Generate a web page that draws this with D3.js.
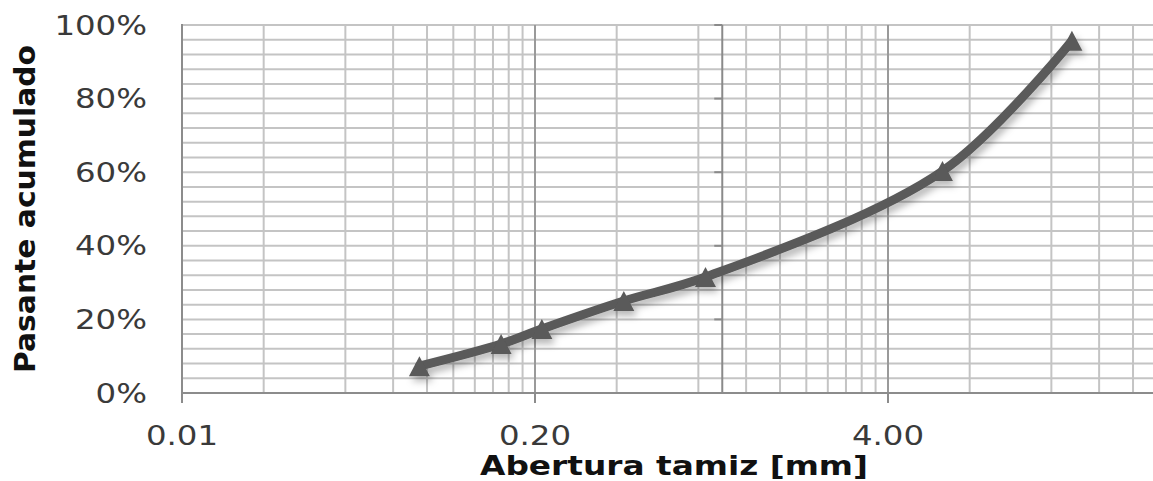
<!DOCTYPE html>
<html>
<head>
<meta charset="utf-8">
<script src="https://cdn.jsdelivr.net/npm/d3@7"></script>
<style>
  html, body { margin: 0; padding: 0; background: #fff; }
  svg { display: block; }
  text { font-family: "DejaVu Sans", Verdana, sans-serif; }
</style>
</head>
<body>
<svg id="chart" width="1153" height="481"></svg>
<script>
// Sieve openings (mm) and cumulative passing fraction
const openings = [0.075, 0.15, 0.212, 0.425, 0.85, 6.35, 19.05];
const passing  = [0.073, 0.133, 0.174, 0.250, 0.315, 0.603, 0.957];

// Axis ticks (log base 20); the last decade boundary lies past the right edge
const xTicks = [0.01, 0.2, 4, 80];
const xTickLabels = ["0.01", "0.20", "4.00"];
const yTicks = [0, 0.2, 0.4, 0.6, 0.8, 1.0];
const yTickLabels = ["0%", "20%", "40%", "60%", "80%", "100%"];

const xTitle = "Abertura tamiz [mm]";
const yTitle = "Pasante acumulado";

const W = 1153, H = 481;
const plotLeft = 182, plotTop = 25, plotBottom = 393;

const svg = d3.select("#chart");

const x = d3.scaleLog().base(20).domain([0.01, 80]).range([plotLeft, plotLeft + 3 * 353]);
const y = d3.scaleLinear().domain([0, 1]).range([plotBottom, plotTop]);

const plotRight = W + 5;

// Soft drop shadow for the series
const defs = svg.append("defs");
const f = defs.append("filter").attr("id", "shadow")
  .attr("x", "-10%").attr("y", "-10%").attr("width", "130%").attr("height", "130%");
f.append("feDropShadow").attr("dx", 3).attr("dy", 5)
  .attr("stdDeviation", 3.5).attr("flood-color", "#000").attr("flood-opacity", 0.28);

// Minor vertical gridlines: 2b, 4b, ... 18b inside each base-20 decade
const minorX = [];
for (let i = 0; i < xTicks.length - 1; i++) {
  const b = xTicks[i];
  for (let k = 1; k <= 9; k++) minorX.push(b * 2 * k);
}
const grid = svg.append("g");
grid.selectAll("line.vminor").data(minorX).join("line")
  .attr("x1", d => x(d)).attr("x2", d => x(d))
  .attr("y1", plotTop).attr("y2", plotBottom)
  .attr("stroke", "#c4c4c4").attr("stroke-width", 2);

// Horizontal gridlines every 4%
const hLines = d3.range(1, 26).map(i => i * 0.04);
grid.selectAll("line.h").data(hLines).join("line")
  .attr("x1", plotLeft).attr("x2", plotRight)
  .attr("y1", d => y(d)).attr("y2", d => y(d))
  .attr("stroke", "#c4c4c4").attr("stroke-width", 2);

// Major vertical gridlines
grid.selectAll("line.vmajor").data(xTicks.slice(1)).join("line")
  .attr("x1", d => x(d)).attr("x2", d => x(d))
  .attr("y1", plotTop).attr("y2", plotBottom)
  .attr("stroke", "#9a9a9a").attr("stroke-width", 2);

// Secondary vertical axis line at 1 mm with inward ticks
const vx = x(0.98);
grid.append("line").attr("x1", vx).attr("x2", vx).attr("y1", plotTop).attr("y2", plotBottom)
  .attr("stroke", "#8a8a8a").attr("stroke-width", 2);
grid.selectAll("line.vt").data(yTicks.slice(1)).join("line")
  .attr("x1", vx - 8).attr("x2", vx).attr("y1", d => y(d)).attr("y2", d => y(d))
  .attr("stroke", "#8a8a8a").attr("stroke-width", 2);

// Axes
const axes = svg.append("g");
axes.append("line").attr("x1", plotLeft).attr("x2", plotLeft).attr("y1", plotTop - 1).attr("y2", plotBottom)
  .attr("stroke", "#8c8c8c").attr("stroke-width", 2);
axes.append("line").attr("x1", plotLeft).attr("x2", plotRight).attr("y1", plotBottom).attr("y2", plotBottom)
  .attr("stroke", "#8c8c8c").attr("stroke-width", 2);
axes.selectAll("line.xt").data(xTicks).join("line")
  .attr("x1", d => x(d)).attr("x2", d => x(d))
  .attr("y1", plotBottom).attr("y2", plotBottom + 10)
  .attr("stroke", "#8c8c8c").attr("stroke-width", 2);

// Tick labels (wide Verdana-like look)
const sx = 1.2;
axes.selectAll("text.yl").data(yTicks).join("text")
  .attr("transform", d => `translate(147,${y(d) + 9.5}) scale(${sx},1)`)
  .attr("text-anchor", "end")
  .attr("font-size", 27).attr("fill", "#3a3a3a")
  .text((d, i) => yTickLabels[i]);

axes.selectAll("text.xl").data(xTicks.slice(0, xTickLabels.length)).join("text")
  .attr("transform", d => `translate(${x(d)},445) scale(${sx},1)`)
  .attr("text-anchor", "middle")
  .attr("font-size", 27).attr("fill", "#3a3a3a")
  .text((d, i) => xTickLabels[i]);

// Axis titles
svg.append("text")
  .attr("x", 674).attr("y", 475)
  .attr("text-anchor", "middle")
  .attr("font-size", 27).attr("font-weight", "bold").attr("fill", "#111")
  .attr("textLength", 388).attr("lengthAdjust", "spacingAndGlyphs")
  .text(xTitle);

svg.append("text")
  .attr("transform", "translate(35,209) rotate(-90)")
  .attr("text-anchor", "middle")
  .attr("font-size", 28).attr("font-weight", "bold").attr("fill", "#111")
  .attr("textLength", 328).attr("lengthAdjust", "spacingAndGlyphs")
  .text(yTitle);

// Series
const pts = openings.map((o, i) => [o, passing[i]]);
const series = svg.append("g").attr("filter", "url(#shadow)");
const line = d3.line()
  .x(d => x(d[0])).y(d => y(d[1]))
  .curve(d3.curveCatmullRom.alpha(0.5));
series.append("path").datum(pts)
  .attr("d", line)
  .attr("fill", "none").attr("stroke", "#5a5a5a")
  .attr("stroke-width", 9).attr("stroke-linecap", "round").attr("stroke-linejoin", "round");

// Triangle markers, 21 px wide and 20 px tall
const triPath = "M0,-10L10.5,10L-10.5,10Z";
series.selectAll("path.m").data(pts).join("path")
  .attr("transform", d => `translate(${x(d[0])},${y(d[1])})`)
  .attr("d", triPath)
  .attr("fill", "#5a5a5a");
</script>
</body>
</html>
